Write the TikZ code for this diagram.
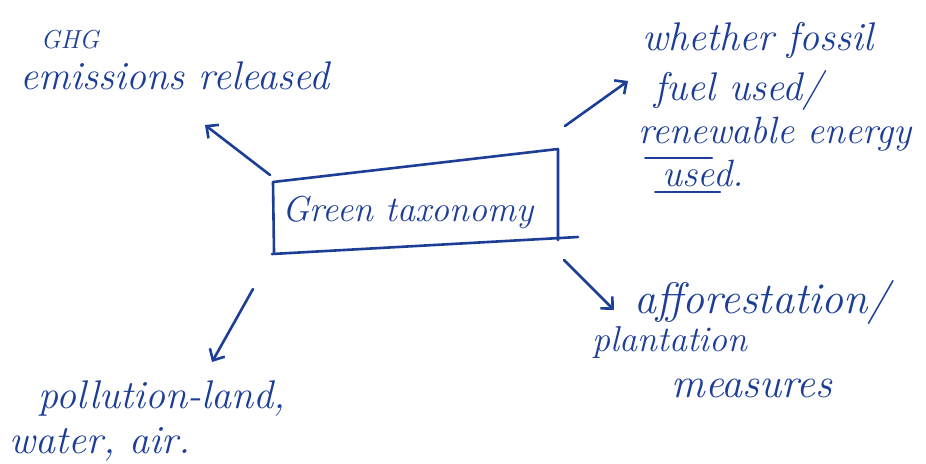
\documentclass[tikz,border=0pt]{standalone}
\usetikzlibrary{arrows.meta}
\definecolor{ink}{RGB}{28,62,150}
\tikzset{
  ink/.style={draw=ink, line width=2.6pt, line cap=round, line join=round},
  arr/.style={ink, -{Straight Barb[length=9pt,width=17pt,line width=2.6pt]}},
  hand/.style={text=ink, font=\fontsize{40}{44}\selectfont\itshape, inner sep=0pt, align=center},
  small/.style={text=ink, font=\fontsize{26}{28}\selectfont\itshape, inner sep=0pt}
}
\begin{document}
\begin{tikzpicture}[x=1pt,y=-1pt]
\useasboundingbox[fill=white] (0,0) rectangle (926,463);
% box corners
\coordinate (tl) at (273,182);
\coordinate (tr) at (558,149);
\coordinate (br) at (558,240);
\coordinate (bl) at (274,252);
\coordinate (bx) at (578,237);
\draw[ink] (bl) -- (tl) -- (tr) -- (br);
\draw[ink] (272,254) -- (bx);
\node[hand, font=\fontsize{36}{40}\selectfont\itshape] (gt) at (408,212) {Green taxonomy};
% texts
\node[small] (ghg) at (70,40) {GHG};
\node[hand] (em) at (175,76) {emissions released};
\node[hand] (w1) at (758,40) {whether fossil};
\node[hand] (w2) at (738,90) {fuel used/};
\node[hand, font=\fontsize{38}{42}\selectfont\itshape] (w3) at (775,134) {renewable energy};
\node[hand, font=\fontsize{38}{42}\selectfont\itshape] (w4) at (703,174) {used.};
\draw[ink, line width=2pt] (645,158) -- (712,158);
\draw[ink, line width=2pt] (655,192) -- (720,192);
\node[hand, font=\fontsize{44}{48}\selectfont\itshape] (af) at (762,302) {afforestation/};
\node[hand, font=\fontsize{36}{40}\selectfont\itshape] (pl) at (670,342) {plantation};
\node[hand, font=\fontsize{42}{46}\selectfont\itshape] (me) at (752,388) {measures};
\node[hand] (po) at (162,398) {pollution-land,};
\node[hand] (wa) at (100,444) {water, air.};
% arrows
\coordinate (a1s) at (270,175); \coordinate (a1e) at (205,125);
\coordinate (a2s) at (565,126); \coordinate (a2e) at (628,81);
\coordinate (a3s) at (564,260); \coordinate (a3e) at (614,310);
\coordinate (a4s) at (253,289); \coordinate (a4e) at (212,362);
\draw[arr] (a1s) -- (a1e);
\draw[arr] (a2s) -- (a2e);
\draw[arr] (a3s) -- (a3e);
\draw[arr] (a4s) -- (a4e);
\end{tikzpicture}
\end{document}
